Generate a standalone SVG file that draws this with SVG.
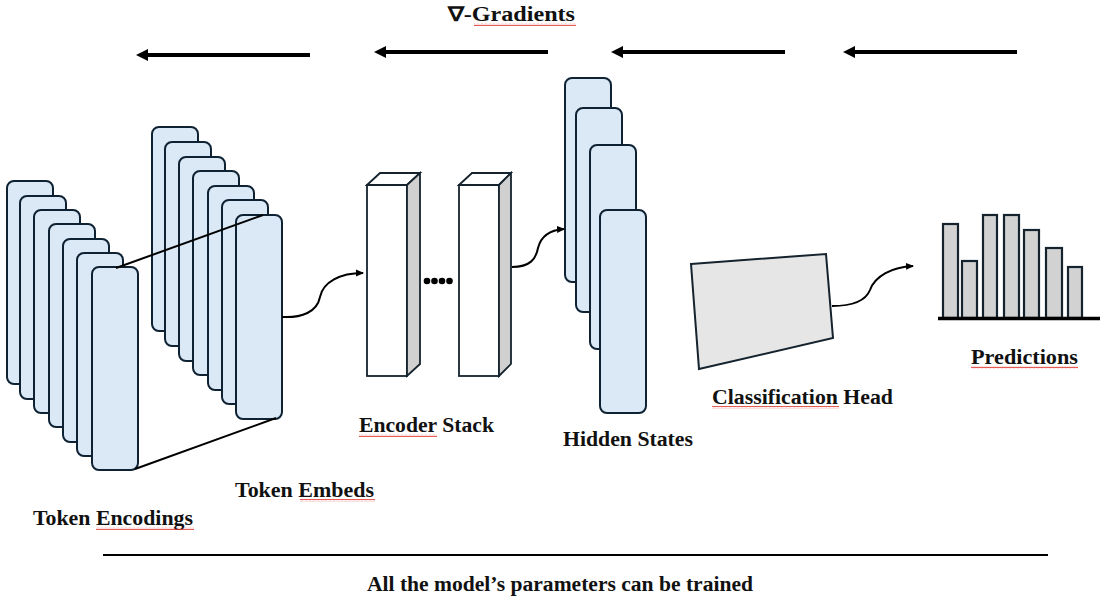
<svg xmlns="http://www.w3.org/2000/svg" width="1118" height="607" viewBox="0 0 1118 607">
<defs>
<style>
.blk{fill:#dbe8f5;stroke:#0e2233;stroke-width:2}
.lbl{font-family:"Liberation Serif","Times New Roman",serif;font-weight:bold;font-size:20px;fill:#111}
.con{fill:none;stroke:#000;stroke-width:2}
.grad{stroke:#000;stroke-width:4}
.bar{fill:#d2d2d2;stroke:#14232e;stroke-width:2.2}
.face{stroke:#14232e;stroke-width:1.8}
.sq{fill:url(#sq)}
</style>
<marker id="ah" markerWidth="8" markerHeight="8" refX="7" refY="4" orient="auto" markerUnits="userSpaceOnUse">
<path d="M0,0.5 L8,4 L0,7.5 Z" fill="#000"/>
</marker>
<pattern id="sq" width="4" height="3" patternUnits="userSpaceOnUse">
<path d="M0,2.2 L1,0.8 L2,2.2 L3,0.8 L4,2.2" stroke="#e0302a" stroke-width="0.8" fill="none"/>
</pattern>
</defs>
<rect width="1118" height="607" fill="#fff"/>

<g id="gradients">
<line class="grad" x1="146" y1="55" x2="310" y2="55"/><polygon points="136,55 148,49 148,61"/>
<line class="grad" x1="384" y1="52" x2="548" y2="52"/><polygon points="374,52 386,46 386,58"/>
<line class="grad" x1="621" y1="52" x2="785" y2="52"/><polygon points="611,52 623,46 623,58"/>
<line class="grad" x1="853" y1="52" x2="1017" y2="52"/><polygon points="843,52 855,46 855,58"/>
<text class="lbl" x="448" y="21" textLength="127" lengthAdjust="spacingAndGlyphs">∇-Gradients</text>
<rect class="sq" x="474" y="23" width="102" height="3"/>
</g>

<g id="token-encodings">
<rect class="blk" x="7" y="181" width="46" height="203" rx="7"/>
<rect class="blk" x="20" y="196" width="46" height="203" rx="7"/>
<rect class="blk" x="34" y="210" width="46" height="203" rx="7"/>
<rect class="blk" x="49" y="224" width="46" height="203" rx="7"/>
<rect class="blk" x="63" y="239" width="46" height="203" rx="7"/>
<rect class="blk" x="77" y="253" width="46" height="203" rx="7"/>
<rect class="blk" x="92" y="267" width="46" height="203" rx="7"/>
<text class="lbl" x="33" y="525" textLength="160" lengthAdjust="spacingAndGlyphs">Token Encodings</text>
<rect class="sq" x="96" y="527" width="98" height="3"/>
</g>

<g id="token-embeds">
<rect class="blk" x="152" y="127" width="46" height="204" rx="7"/>
<rect class="blk" x="165" y="142" width="46" height="204" rx="7"/>
<rect class="blk" x="179" y="157" width="46" height="204" rx="7"/>
<rect class="blk" x="193" y="171" width="46" height="204" rx="7"/>
<rect class="blk" x="208" y="186" width="46" height="204" rx="7"/>
<rect class="blk" x="222" y="200" width="46" height="204" rx="7"/>
<rect class="blk" x="236" y="215" width="46" height="204" rx="7"/>
<text class="lbl" x="235" y="497" textLength="139" lengthAdjust="spacingAndGlyphs">Token Embeds</text>
<rect class="sq" x="300" y="499" width="75" height="3"/>
</g>

<g id="projection-lines">
<line x1="116" y1="268" x2="263" y2="215" stroke="#000" stroke-width="2"/>
<line x1="135" y1="469" x2="276" y2="418" stroke="#000" stroke-width="2"/>
</g>

<g id="encoder-stack">
<rect class="face" x="367" y="185" width="40" height="191" fill="#fff"/>
<polygon class="face" points="367,185 380,173 420,173 407,185" fill="#fff"/>
<polygon class="face" points="407,185 420,173 420,364 407,376" fill="#d0d0d0"/>
<rect class="face" x="459" y="185" width="40" height="191" fill="#fff"/>
<polygon class="face" points="459,185 472,173 511,173 499,185" fill="#fff"/>
<polygon class="face" points="499,185 511,173 511,364 499,376" fill="#d0d0d0"/>
<circle cx="427" cy="281" r="3.3"/><circle cx="434.5" cy="281" r="3.3"/><circle cx="442" cy="281" r="3.3"/><circle cx="449.5" cy="281" r="3.3"/>
<text class="lbl" x="359" y="432" textLength="135" lengthAdjust="spacingAndGlyphs">Encoder Stack</text>
<rect class="sq" x="359" y="434" width="78" height="3"/>
</g>

<g id="hidden-states">
<rect class="blk" x="565" y="78" width="46" height="204" rx="7"/>
<rect class="blk" x="576" y="108" width="46" height="204" rx="7"/>
<rect class="blk" x="590" y="145" width="46" height="204" rx="7"/>
<rect class="blk" x="600" y="210" width="46" height="203" rx="7"/>
<text class="lbl" x="563" y="446" textLength="130" lengthAdjust="spacingAndGlyphs">Hidden States</text>
</g>

<g id="classification-head">
<polygon points="691,264 826,254 833,338 699,369" fill="#e6e6e6" stroke="#14232e" stroke-width="2"/>
<text class="lbl" x="712" y="404" textLength="181" lengthAdjust="spacingAndGlyphs">Classification Head</text>
<rect class="sq" x="712" y="406" width="127" height="3"/>
</g>

<g id="predictions">
<rect class="bar" x="943" y="224" width="15" height="94"/>
<rect class="bar" x="962" y="261" width="15" height="57"/>
<rect class="bar" x="983" y="215" width="14" height="103"/>
<rect class="bar" x="1004" y="215" width="15" height="103"/>
<rect class="bar" x="1024" y="230" width="15" height="88"/>
<rect class="bar" x="1046" y="248" width="16" height="70"/>
<rect class="bar" x="1068" y="267" width="14" height="51"/>
<line x1="938" y1="318.5" x2="1100" y2="318.5" stroke="#000" stroke-width="3.5"/>
<text class="lbl" x="971" y="364" textLength="107" lengthAdjust="spacingAndGlyphs">Predictions</text>
<rect class="sq" x="971" y="366" width="107" height="3"/>
</g>

<g id="connectors">
<path class="con" marker-end="url(#ah)" d="M282,317 C302,318 317,312 320,297 C323,282 340,273 363,273"/>
<path class="con" marker-end="url(#ah)" d="M512,267 C530,267 536,259 538,248 C541,236 550,230 564,229"/>
<path class="con" marker-end="url(#ah)" d="M832,306 C855,306 866,300 870,290 C875,276 892,267 913,266"/>
</g>

<g id="footer">
<line x1="103" y1="555" x2="1048" y2="555" stroke="#000" stroke-width="2"/>
<text class="lbl" x="367" y="591" textLength="386" lengthAdjust="spacingAndGlyphs">All the model’s parameters can be trained</text>
</g>
</svg>
